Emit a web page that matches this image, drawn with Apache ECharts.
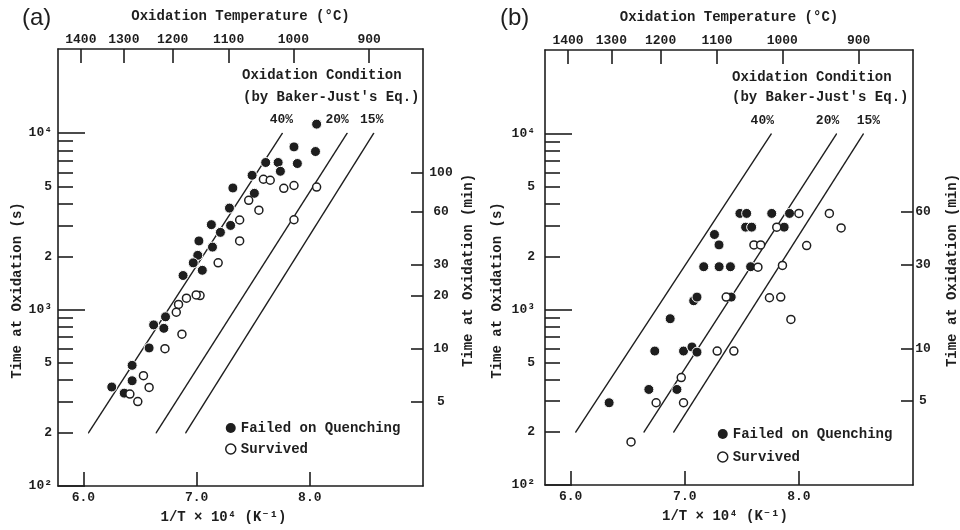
<!DOCTYPE html>
<html>
<head>
<meta charset="utf-8">
<script src="https://cdn.jsdelivr.net/npm/echarts@6/dist/echarts.min.js"></script>
<style>
  html, body { margin: 0; padding: 0; background: #fff; }
  #chart { width: 960px; height: 530px; }
</style>
</head>
<body>
<div id="chart"></div>
<script>
// ---- Data: [1/T x 10^4 (1/K), oxidation time (s)] ----
// Panel (a)
const failedA = [
  [8.06, 11250], [7.86, 8360], [8.05, 7870], [7.61, 6820], [7.72, 6820], [7.89, 6730],
  [7.74, 6080], [7.49, 5770], [7.51, 4560], [7.32, 4890], [7.29, 3760], [7.13, 3030],
  [7.30, 3000], [7.21, 2740], [7.02, 2450], [7.14, 2260], [7.01, 2030], [6.97, 1840],
  [7.05, 1670], [6.88, 1560], [6.725, 910], [6.62, 819], [6.71, 783], [6.58, 606],
  [6.43, 483], [6.43, 395], [6.25, 364], [6.36, 336]
];
const survivedA = [
  [7.59, 5480], [7.65, 5410], [7.77, 4870], [7.86, 5050], [8.06, 4950], [7.86, 3230],
  [7.46, 4160], [7.55, 3660], [7.38, 3220], [7.38, 2450], [7.19, 1840], [7.03, 1200],
  [6.996, 1210], [6.91, 1160], [6.84, 1070], [6.82, 966], [6.87, 725], [6.72, 600],
  [6.53, 422], [6.58, 362], [6.41, 332], [6.48, 301]
];
// Panel (b)
const failedB = [
  [7.483, 3520], [7.542, 3520], [7.762, 3520], [7.918, 3520], [7.533, 2940], [7.586, 2940],
  [7.871, 2940], [7.26, 2670], [7.30, 2330], [7.166, 1750], [7.301, 1750], [7.40, 1750],
  [7.577, 1750], [7.078, 1120], [7.107, 1175], [7.407, 1175], [6.872, 885], [6.737, 579],
  [6.989, 579], [7.063, 611], [7.107, 571], [6.685, 350], [6.931, 350], [6.337, 294]
];
const survivedB = [
  [8.0, 3520], [8.267, 3520], [7.806, 2940], [8.37, 2910], [7.606, 2330], [7.665, 2330],
  [8.068, 2310], [7.641, 1740], [7.856, 1780], [7.363, 1175], [7.742, 1165], [7.841, 1175],
  [7.93, 877], [7.284, 579], [7.43, 579], [6.969, 409], [6.749, 294], [6.989, 294],
  [6.529, 176]
];

// Baker-Just equal-oxidation lines (end points)
const line40 = [[6.044, 200], [7.758, 10000]];
const line20 = [[6.642, 200], [8.330, 10000]];
const line15 = [[6.903, 200], [8.565, 10000]];
const lineNames = ['40%', '20%', '15%'];

// ---- Axis ticks ----
const xRange = [5.775, 9.0];
const yRange = [100, 30000];
const xTicks = [6, 7, 8];
const tempTicksC = [1400, 1300, 1200, 1100, 1000, 900];
const yMajorTicks = [100, 1000, 10000];
const yMinorTicks = [200, 300, 400, 500, 600, 700, 800, 900, 2000, 3000, 4000, 5000, 6000, 7000, 8000, 9000];
const yLabelValues = [100, 200, 500, 1000, 2000, 5000, 10000];
const yLabelTexts = ['10²', '2', '5', '10³', '2', '5', '10⁴'];
const minuteTicksA = [5, 10, 20, 30, 60, 100];
const minuteTicksB = [5, 10, 30, 60];

const INK = '#1e1e1e';
const MONO = '"Liberation Mono", "DejaVu Sans Mono", monospace';
const txt = (size) => ({ color: INK, fontFamily: MONO, fontWeight: 'bold', fontSize: size });

const tempPos = tempTicksC.map(c => 1e4 / (c + 273.15));
const yLabelMap = {};
yLabelValues.forEach((v, i) => { yLabelMap[v] = yLabelTexts[i]; });

const grids = [
  { left: 58, top: 49, width: 365, height: 437 },
  { left: 545, top: 50, width: 368, height: 435 }
];
const panelCfg = [
  { minutes: minuteTicksA, leftMargin: 6, leftGap: 34, rightMargin: 18, rightGap: 38, legendLeft: 225, legendTop: 421, legendGap: 7,
    failed: failedA, survived: survivedA, labelOffsets: [[-1, 0], [-10, 0], [-2, 0]] },
  { minutes: minuteTicksB, leftMargin: 10, leftGap: 41, rightMargin: 10, rightGap: 32, legendLeft: 717, legendTop: 427, legendGap: 9,
    failed: failedB, survived: survivedB, labelOffsets: [[-9, 0], [-9, 0], [5, 0]] }
];

const axisLineStyle = { color: INK, width: 1.6 };
const xAxis = [], yAxis = [], series = [], legend = [];

panelCfg.forEach((p, g) => {
  const xi = xAxis.length;
  // bottom: reciprocal temperature
  xAxis.push({
    type: 'value', gridIndex: g, position: 'bottom', min: xRange[0], max: xRange[1],
    axisLine: { show: true, onZero: false, lineStyle: axisLineStyle },
    axisTick: { show: true, inside: true, length: 14, customValues: xTicks, lineStyle: axisLineStyle },
    axisLabel: { customValues: xTicks, formatter: v => v.toFixed(1), margin: 5, ...txt(13) },
    splitLine: { show: false },
    name: '1/T × 10⁴ (K⁻¹)', nameLocation: 'middle', nameGap: 24,
    nameTextStyle: { ...txt(14), padding: g === 0 ? [0, 34, 0, 0] : [0, 8, 0, 0] }
  });
  // top: oxidation temperature in degrees C
  xAxis.push({
    type: 'value', gridIndex: g, position: 'top', min: xRange[0], max: xRange[1],
    axisLine: { show: true, onZero: false, lineStyle: axisLineStyle },
    axisTick: { show: true, inside: true, length: 14, customValues: tempPos, lineStyle: axisLineStyle },
    axisLabel: { customValues: tempPos, formatter: v => String(Math.round(1e4 / v - 273.15)), margin: 3, ...txt(13) },
    splitLine: { show: false },
    name: 'Oxidation Temperature (°C)', nameLocation: 'middle', nameGap: 26, nameTextStyle: txt(14)
  });

  const yi = yAxis.length;
  // left: decades with labels
  yAxis.push({
    type: 'log', logBase: 10, gridIndex: g, position: 'left', min: yRange[0], max: yRange[1],
    axisLine: { show: true, onZero: false, lineStyle: axisLineStyle },
    axisTick: { show: true, inside: true, length: 27, customValues: yMajorTicks, lineStyle: axisLineStyle },
    axisLabel: { customValues: yLabelValues, formatter: v => yLabelMap[Math.round(v)] || '', margin: p.leftMargin, ...txt(13) },
    splitLine: { show: false }, minorTick: { show: false },
    name: 'Time at Oxidation (s)', nameLocation: 'middle', nameGap: p.leftGap,
    nameTextStyle: { ...txt(14), padding: [0, 46, 0, 0] }
  });
  // left: intermediate ticks
  yAxis.push({
    type: 'log', logBase: 10, gridIndex: g, position: 'left', min: yRange[0], max: yRange[1],
    axisLine: { show: false },
    axisTick: { show: true, inside: true, length: 15, customValues: yMinorTicks, lineStyle: axisLineStyle },
    axisLabel: { show: false }, splitLine: { show: false }
  });
  // right: time in minutes
  const minuteVals = p.minutes.map(m => m * 60);
  yAxis.push({
    type: 'log', logBase: 10, gridIndex: g, position: 'right', min: yRange[0], max: yRange[1],
    axisLine: { show: true, onZero: false, lineStyle: axisLineStyle },
    axisTick: { show: true, inside: true, length: 12, customValues: minuteVals, lineStyle: axisLineStyle },
    axisLabel: { customValues: minuteVals, formatter: v => String(Math.round(v / 60)), margin: p.rightMargin, align: 'center', ...txt(13) },
    splitLine: { show: false },
    name: 'Time at Oxidation (min)', nameLocation: 'middle', nameGap: p.rightGap,
    nameTextStyle: { ...txt(14), padding: [0, 6, 0, 0] }
  });

  [line40, line20, line15].forEach((ln, k) => {
    series.push({
      type: 'line', xAxisIndex: xi, yAxisIndex: yi, silent: true, z: 2,
      symbol: 'circle', symbolSize: 1, showSymbol: true,
      lineStyle: { color: INK, width: 1.4 }, itemStyle: { color: INK },
      data: [
        ln[0],
        { value: ln[1], label: { show: true, formatter: lineNames[k], position: 'top', distance: 6, offset: p.labelOffsets[k], ...txt(13) } }
      ]
    });
  });
  series.push({
    type: 'scatter', name: 'Failed on Quenching', xAxisIndex: xi, yAxisIndex: yi, z: 5,
    symbol: 'circle', symbolSize: 10,
    itemStyle: { color: INK, borderColor: '#fff', borderWidth: 1, opacity: 1 },
    data: p.failed
  });
  series.push({
    type: 'scatter', name: 'Survived', xAxisIndex: xi, yAxisIndex: yi, z: 5,
    symbol: 'circle', symbolSize: 8,
    itemStyle: { color: '#fff', borderColor: INK, borderWidth: 1.5, opacity: 1 },
    data: p.survived
  });
  legend.push({
    orient: 'vertical', left: p.legendLeft, top: p.legendTop, padding: 0,
    itemWidth: 10, itemHeight: 10, itemGap: p.legendGap, itemTextGap: 8, selectedMode: false,
    data: [
      { name: 'Failed on Quenching', icon: 'circle', itemStyle: { color: INK, borderWidth: 0 } },
      { name: 'Survived', icon: 'circle', itemStyle: { color: '#fff', borderColor: INK, borderWidth: 1.5 } }
    ],
    textStyle: txt(14)
  });
});

const graphic = [
  { type: 'text', left: 22, top: 6, style: { text: '(a)', fill: INK, font: '24px "Liberation Sans", Arial, sans-serif' } },
  { type: 'text', left: 500, top: 6, style: { text: '(b)', fill: INK, font: '24px "Liberation Sans", Arial, sans-serif' } },
  { type: 'text', left: 242, top: 68, style: { text: 'Oxidation Condition', fill: INK, font: 'bold 14px ' + MONO } },
  { type: 'text', left: 243, top: 90, style: { text: "(by Baker-Just's Eq.)", fill: INK, font: 'bold 14px ' + MONO } },
  { type: 'text', left: 732, top: 70, style: { text: 'Oxidation Condition', fill: INK, font: 'bold 14px ' + MONO } },
  { type: 'text', left: 732, top: 90, style: { text: "(by Baker-Just's Eq.)", fill: INK, font: 'bold 14px ' + MONO } }
];

const chart = echarts.init(document.getElementById('chart'), null, { renderer: 'canvas' });
chart.setOption({
  backgroundColor: '#fff',
  animation: false,
  grid: grids,
  xAxis, yAxis, series, legend, graphic
});
</script>
</body>
</html>
